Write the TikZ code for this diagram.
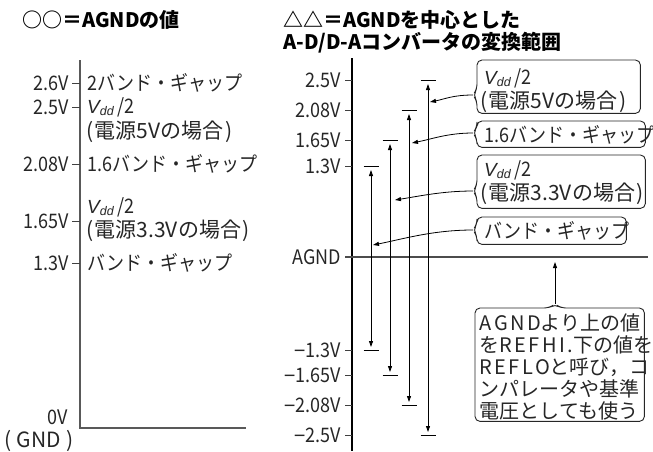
\documentclass[tikz,border=0pt]{standalone}
\usepackage{fontspec}
\setmainfont{Noto Sans CJK JP}
\newfontfamily\lblfont[FakeStretch=0.9]{Noto Sans CJK JP}
\newfontfamily\vfont{Liberation Sans}
\usetikzlibrary{arrows.meta}
\newcommand\Vdd{{\vfont\itshape\fontsize{19}{19}\selectfont V\raisebox{-2.5pt}{\fontsize{12.5}{12.5}\selectfont dd}}\,/2}
\newcommand\mn{{\vfont −}}
\newcommand\ls[1]{{\addfontfeature{LetterSpace=12}#1}}
\newcommand\tstrut{\rule{0pt}{21pt}}
\newcommand\pl{(\kern1.5pt}
\newcommand\pr{\kern1.5pt)}
\newcommand\calloutL[2]{%
  \draw[boxline] (#1.north) -- (#1.north east) -- (#1.south east) -- (#1.south west)
    -- ([yshift=-6pt]#2) -- ([xshift=-4pt]#2) -- ([yshift=6pt]#2) -- (#1.north west) -- cycle;}
\begin{document}
\begin{tikzpicture}[x=1pt,y=-1pt,
  lbl/.style={font=\lblfont\fontsize{20}{22}\selectfont, inner sep=0pt, text=black!85},
  plbl/.style={font=\fontsize{21}{22}\selectfont, inner sep=0pt, text=black!85},
  ttl/.style={font=\fontsize{20}{23}\selectfont\bfseries, inner sep=0pt, anchor=west},
  axisL/.style={line width=1.6pt, draw=black!65},
  axisR/.style={line width=1.2pt, draw=black},
  agnd/.style={line width=1.6pt, draw=black!70},
  tickm/.style={line width=1pt, draw=black!75},
  bar/.style={line width=0.9pt},
  dbl/.style={line width=0.8pt, {Triangle[length=6pt,width=4pt]}-{Triangle[length=6pt,width=4pt]}},
  call/.style={line width=0.8pt, -{Triangle[length=6pt,width=4pt]}},
  boxline/.style={line width=0.9pt, rounded corners=5pt, draw=black!85},
  boxn/.style={anchor=north west, inner sep=0pt},
  cbox/.style={anchor=north west, inner xsep=6pt, inner ysep=0pt, align=left, text=black!85},
  ]
\useasboundingbox (0,0) rectangle (653,451);
% titles
\node[ttl] (title1) at (22,20) {○○＝AGNDの値};
\node[ttl] (title2) at (283,20) {△△＝AGNDを中心とした};
\node[ttl] (title3) at (283,43) {A-D/D-Aコンバータの変換範囲};

% ---------- left panel ----------
\coordinate (la) at (80,60);
\coordinate (lo) at (80,428);
\coordinate (lr) at (246,428);
\draw[axisL] (la) -- (lo) -- (lr);
\foreach \yy in {83,107,164,221,263} \draw[tickm] (72,\yy) -- (80,\yy);
\node[lbl,anchor=east] (l26) at (69,83) {2.6V};
\node[lbl,anchor=east] (l25) at (69,107) {2.5V};
\node[lbl,anchor=east] (l208) at (69,164) {2.08V};
\node[lbl,anchor=east] (l165) at (69,221) {1.65V};
\node[lbl,anchor=east] (l13) at (69,263) {1.3V};
\node[lbl,anchor=east] (l0) at (68,417) {0V};
\node[plbl] (lgnd) at (39,441) {(\kern5pt GND\kern5pt)};
\node[lbl,anchor=west] (d1) at (87,83) {2バンド・ギャップ};
\node[lbl,anchor=west] (d2) at (87,107) {\Vdd};
\node[plbl,anchor=west] (d3) at (86,132) {\pl 電源5Vの場合\pr};
\node[lbl,anchor=west] (d4) at (87,164) {1.6バンド・ギャップ};
\node[lbl,anchor=west] (d5) at (87,207) {\Vdd};
\node[plbl,anchor=west] (d6) at (86,231) {\pl 電源3.3Vの場合\pr};
\node[lbl,anchor=west] (d7) at (87,263) {バンド・ギャップ};

% ---------- right panel ----------
\coordinate (ra) at (352,58);
\coordinate (rb) at (352,451);
\draw[axisR] (ra) -- (rb);
\coordinate (ga) at (345,257);
\coordinate (gb) at (648,257);
\draw[agnd] (ga) -- (gb);
\foreach \yy in {80,110,140,166,350,375,405,435} \draw[tickm] (345,\yy) -- (352,\yy);
\node[lbl,anchor=east] (r25) at (341,80) {2.5V};
\node[lbl,anchor=east] (r208) at (341,110) {2.08V};
\node[lbl,anchor=east] (r165) at (341,140) {1.65V};
\node[lbl,anchor=east] (r13) at (341,166) {1.3V};
\node[lbl,anchor=east] (ragnd) at (341,257) {AGND};
\node[lbl,anchor=east] (rm13) at (341,350) {\mn 1.3V};
\node[lbl,anchor=east] (rm165) at (341,375) {\mn 1.65V};
\node[lbl,anchor=east] (rm208) at (341,405) {\mn 2.08V};
\node[lbl,anchor=east] (rm25) at (341,435) {\mn 2.5V};

% range bars and double arrows
\coordinate (t1) at (371,166); \coordinate (b1) at (371,350);
\coordinate (t2) at (390,140); \coordinate (b2) at (390,375);
\coordinate (t3) at (409,110); \coordinate (b3) at (409,405);
\coordinate (t4) at (428,80);  \coordinate (b4) at (428,435);
\foreach \p in {t1,b1,t2,b2,t3,b3,t4,b4}
  \draw[bar] ([xshift=-7.5pt]\p) -- ([xshift=7.5pt]\p);
\foreach \i in {1,2,3,4}
  \draw[dbl] ([yshift=-4pt]t\i) -- ([yshift=3pt]b\i);

% callout boxes (frames)
\node[boxn, minimum width=163pt, minimum height=53pt] (c1) at (477,60) {};
\node[boxn, minimum width=168pt, minimum height=26pt] (c2) at (477,121) {};
\node[boxn, minimum width=168pt, minimum height=53pt] (c3) at (477,155) {};
\node[boxn, minimum width=149pt, minimum height=27pt] (c4) at (477,217) {};
% callout texts
\node[lbl,anchor=west] (c1a) at (484,78) {\Vdd};
\node[plbl,anchor=west] (c1b) at (480,102) {\pl 電源5Vの場合\pr};
\node[lbl,anchor=west] (c2a) at (484,135) {1.6バンド・ギャップ};
\node[lbl,anchor=west] (c3a) at (484,170) {\Vdd};
\node[plbl,anchor=west] (c3b) at (480,194) {\pl 電源3.3Vの場合\pr};
\node[lbl,anchor=west] (c4a) at (484,231) {バンド・ギャップ};
\node[cbox, minimum width=169pt, minimum height=113pt, text width=160pt, inner xsep=4.5pt,
  font=\fontsize{20}{22}\selectfont] (c5) at (475,308)
  {\tstrut\ls{AGND}より上の値\\を\ls{REFHI.}下の値を\\\ls{REFLO}と呼び，コ\\ンパレータや基準\\電圧としても使う};

\coordinate (n1) at (477,95);
\coordinate (n2) at (477,133);
\coordinate (n3) at (477,191);
\coordinate (n4) at (477,230);
\calloutL{c1}{n1}
\calloutL{c2}{n2}
\calloutL{c3}{n3}
\calloutL{c4}{n4}
\coordinate (n5) at (555,308);
\draw[boxline] (c5.east) -- (c5.south east) -- (c5.south west) -- (c5.north west)
  -- ([xshift=-6pt]n5) -- ([yshift=4pt]n5) -- ([xshift=6pt]n5) -- (c5.north east) -- cycle;

\coordinate (a1) at (430,102);
\coordinate (a2) at (412,143);
\coordinate (a3) at (395,200);
\coordinate (a4) at (373,245);
\coordinate (a5) at (555,262);
\draw[call] ([xshift=-4pt]n1) .. controls +(-20,0) and +(15,-3) .. (a1);
\draw[call] ([xshift=-4pt]n2) .. controls +(-25,0) and +(20,-4) .. (a2);
\draw[call] ([xshift=-4pt]n3) .. controls +(-30,0) and +(25,-4) .. (a3);
\draw[call] ([xshift=-4pt]n4) .. controls +(-40,0) and +(30,-6) .. (a4);
\draw[call] ([yshift=4pt]n5) -- (a5);
\end{tikzpicture}
\end{document}
